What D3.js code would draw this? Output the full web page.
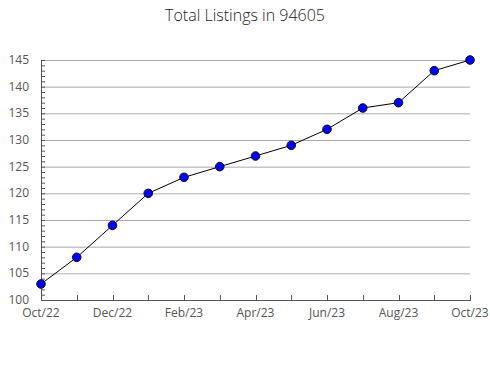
<!DOCTYPE html>
<html><head><meta charset="utf-8">
<script src="https://cdn.jsdelivr.net/npm/d3@7"></script>
<style>body{margin:0;background:#fff}svg{display:block}</style>
</head><body>
<script>
const title = "Total Listings in 94605";
const months = ["Oct/22","Nov/22","Dec/22","Jan/23","Feb/23","Mar/23","Apr/23","May/23","Jun/23","Jul/23","Aug/23","Sep/23","Oct/23"];
const listings = [103,108,114,120,123,125,127,129,132,136,137,143,145];
const yTicks = [100,105,110,115,120,125,130,135,140,145];

const W=490,H=380, L=41, R=470, T=60, B=300;
const svg=d3.select("body").append("svg").attr("width",W).attr("height",H);
const font="'Open Sans', 'Segoe UI', sans-serif";
svg.append("text").attr("x",245).attr("y",21).attr("text-anchor","middle")
  .attr("font-family",font).attr("font-size",16).attr("font-weight",300).attr("fill","#222").text(title);

const x=d3.scalePoint().domain(months).range([L,R]);
const y=d3.scaleLinear().domain([100,145]).range([B,T]);

// gridlines
svg.append("g").selectAll("line").data(yTicks.slice(1)).join("line")
  .attr("x1",L).attr("x2",R).attr("y1",d=>y(d)+0.5).attr("y2",d=>y(d)+0.5)
  .attr("stroke","#aaa").attr("stroke-width",1);

// y minor ticks
svg.append("g").selectAll("line").data(d3.range(100,146)).join("line")
  .attr("x1",L).attr("x2",L+4).attr("y1",d=>y(d)+0.5).attr("y2",d=>y(d)+0.5)
  .attr("stroke","#555");
// y labels
svg.append("g").selectAll("text").data(yTicks).join("text")
  .attr("x",L-12).attr("y",d=>y(d)+4).attr("text-anchor","end")
  .attr("font-family",font).attr("font-size",12).attr("fill","#555").text(d=>d);
// axes lines
svg.append("line").attr("x1",L+0.5).attr("x2",L+0.5).attr("y1",T).attr("y2",B).attr("stroke","#555");
svg.append("line").attr("x1",L).attr("x2",R+1).attr("y1",B+0.5).attr("y2",B+0.5).attr("stroke","#555");
// x ticks
svg.append("g").selectAll("line").data(months).join("line")
  .attr("x1",d=>Math.round(x(d))+0.5).attr("x2",d=>Math.round(x(d))+0.5).attr("y1",B-5).attr("y2",B)
  .attr("stroke","#555");
svg.append("g").selectAll("text").data(months.filter((d,i)=>i%2===0)).join("text")
  .attr("x",d=>x(d)).attr("y",B+17).attr("text-anchor","middle")
  .attr("font-family",font).attr("font-size",12).attr("fill","#555").text(d=>d);

// line
const line=d3.line().x((d,i)=>x(months[i])).y(d=>y(d));
svg.append("path").datum(listings).attr("d",line).attr("fill","none").attr("stroke","#000").attr("stroke-width",1);
svg.append("g").selectAll("circle").data(listings).join("circle")
  .attr("cx",(d,i)=>x(months[i])).attr("cy",d=>y(d)).attr("r",4.3)
  .attr("fill","#0000ff").attr("stroke","#111").attr("stroke-width",1);
</script>
</body></html>
